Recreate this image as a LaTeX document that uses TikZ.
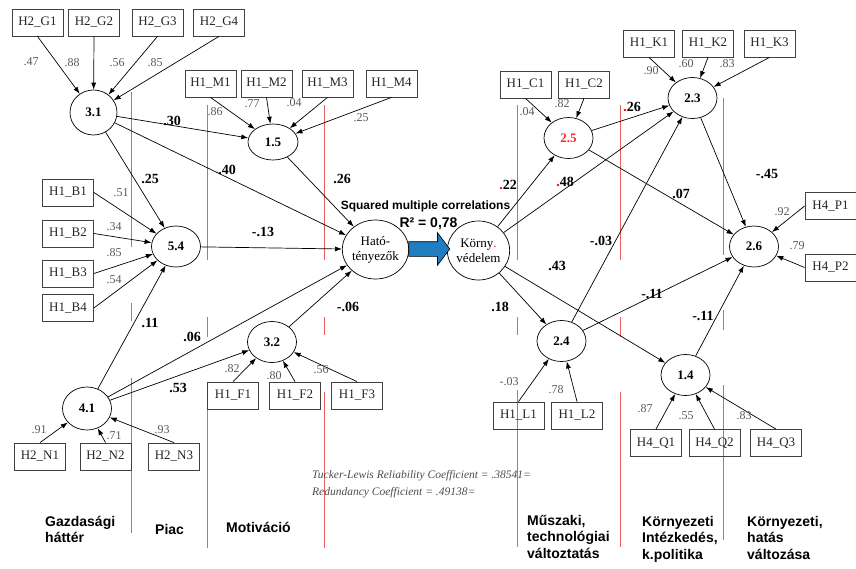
\documentclass[tikz,border=0pt]{standalone}
\usepackage{fontspec}
\setmainfont{Liberation Serif}
\setsansfont{Liberation Sans}
\usetikzlibrary{arrows.meta,shapes.geometric,shapes.arrows}
\definecolor{arrowblue}{RGB}{31,125,192}
\definecolor{lineRed}{RGB}{232,95,95}

\begin{document}
\begin{tikzpicture}[x=1pt,y=-1pt,
  factor/.style={ellipse, draw, line width=0.7pt, inner sep=0pt, minimum width=49pt, minimum height=41pt, font=\fontsize{13}{13}\selectfont\bfseries},
  bigfactor/.style={factor, minimum width=61pt, minimum height=59pt, align=center, font=\fontsize{13}{15}\selectfont},
  item/.style={rectangle, draw=black!75, line width=0.8pt, minimum width=51pt, minimum height=27pt, inner sep=0pt, text=black!85, font=\fontsize{13}{13}\selectfont},
  load/.style={text=black!65, inner sep=0pt, font=\fontsize{12}{12}\selectfont},
  coef/.style={inner sep=0pt, font=\fontsize{14}{14}\selectfont\bfseries},
  arr/.style={-{Latex[length=7pt,width=5pt]}, line width=0.7pt},
  divider/.style={lineRed, line width=0.6pt},
  group/.style={anchor=north west, align=left, inner sep=0pt, font=\fontsize{14}{16.5}\selectfont\sffamily\bfseries}
]
\useasboundingbox (0,0) rectangle (856,568);

% dividers
\foreach \x/\ta/\tb/\ma/\mb/\ba/\bb in {131/92/247/303/321/378/533, 207/105/260/317/337/397/548, 324/105/260/317/335/392/548, 517/105/260/317/335/390/547, 620/105/260/317/337/392/547, 723/98/255/310/330/385/540}
  \draw[divider] (\x,\ta) -- (\x,\tb) (\x,\ma) -- (\x,\mb) (\x,\ba) -- (\x,\bb);

% Nodes
\node[factor, minimum width=47pt, minimum height=45pt] (f31) at (93.5,112.5) {3.1};
\node[factor, minimum width=50pt, minimum height=36pt] (f15) at (273,142) {1.5};
\node[factor] (f54) at (176,246.5) {5.4};
\node[factor] (f32) at (272,342) {3.2};
\node[factor, minimum height=43pt] (f41) at (87,408.5) {4.1};
\node[bigfactor] (hato) at (375.5,249.5) {Ható-\\tényezők};
\node[bigfactor, minimum width=59pt] (korny) at (478.5,250.5) {Körny\textcolor{red}{.}\\védelem};
\node[factor, text=red!85] (f25) at (568.5,138) {2.5};
\node[factor] (f23) at (692.5,98) {2.3};
\node[factor] (f26) at (754,246.5) {2.6};
\node[factor] (f24) at (561.5,341) {2.4};
\node[factor] (f14) at (685.5,375) {1.4};

% indicators
\foreach \n/\h/\x/\y in {G1/2/37.5/22.5, G2/2/94/22.5, G3/2/157.5/22.5, G4/2/219/22.5,
    M1/1/210.5/83.5, M2/1/266.5/83.5, M3/1/327.5/83.5, M4/1/391.5/83.5,
    B1/1/68/192.5, B2/1/68/233.5, B3/1/68/273.5, B4/1/68/308,
    N1/2/40/456.5, N2/2/105.5/456.5, N3/2/174/456.5,
    F1/1/233/395.5, F2/1/295/395.5, F3/1/357/395.5,
    C1/1/525.5/84.5, C2/1/584/84.5,
    K1/1/649/43.5, K2/1/708/43.5, K3/1/769.5/43.5,
    P1/4/830.5/206, P2/4/830.5/267.5,
    L1/1/518.5/415.5, L2/1/577/415.5,
    Q1/4/656/443, Q2/4/714.5/443, Q3/4/776/443}
  \node[item] (\n) at (\x,\y) {H\h\_\n};

% loadings
\foreach \b/\a/\f/\v/\lx/\ly in {G1/south/f31/.47/31/62, G2/south/f31/.88/72/63, G3/south/f31/.56/117/63, G4/south/f31/.85/155/63,
    M1/south/f15/.86/215/112, M2/south/f15/.77/252/104, M3/south/f15/.04/294/103, M4/south/f15/.25/361/118,
    B1/east/f54/.51/121/193, B2/east/f54/.34/114/227, B3/east/f54/.85/114/253, B4/east/f54/.54/114/280,
    N1/north/f41/.91/39/430, N2/north/f41/.71/114/436, N3/north/f41/.93/162/430,
    F1/north/f32/.82/232/369, F2/north/f32/.80/274/376, F3/north/f32/.56/321/370,
    C1/south/f25/.04/527/112, C2/south/f25/.82/562/104,
    K1/south/f23/.90/651/71, K2/south/f23/.60/686/64, K3/south/f23/.83/727/64,
    P1/west/f26/.92/782/212, P2/west/f26/.79/797/246,
    L1/north/f24/-.03/509/382, L2/north/f24/.78/556/390,
    Q1/north/f14/.87/645/409, Q2/north/f14/.55/686/416, Q3/north/f14/.83/744/416}
{
  \draw[arr] (\b.\a) -- (\f);
  \node[load] (l\b) at (\lx,\ly) {\v};
}

% paths
\foreach \p/\q/\v/\lx/\ly in {f31/f15/.30/172/121, f31/hato/.40/227/170, f31/f54/.25/150/179,
    f15/hato/.26/342/179, f54/hato/-.13/263/232, f41/f54/.11/150/323,
    f41/hato/.06/192/337, f41/f32/.53/178/388, f32/hato/-.06/348/307,
    korny/f25/{\textcolor{red}{.}22}/508/185, korny/f23/{\textcolor{red}{.}48}/565/182,
    korny/f24/.18/500/307, korny/f14/.43/557/266,
    f25/f23/{\textcolor{red}{.}26}/632/107, f25/f26/.07/681/194,
    f24/f23/-.03/601/241, f24/f26/-.11/652/294, f14/f26/-.11/703/316, f23/f26/-.45/767/174}
{
  \draw[arr] (\p) -- (\q);
  \node[coef] (c\p\q) at (\lx,\ly) {\v};
}

% big arrow
\node[single arrow, draw, fill=arrowblue, line width=0.6pt, inner xsep=0pt, inner ysep=7pt, minimum height=41pt, single arrow head extend=9pt, single arrow tip angle=106] (bigarrow) at (426.5,249) {};

% texts
\node[font=\fontsize{12}{12}\selectfont\sffamily\bfseries] (smc) at (425.5,206) {Squared multiple correlations};
\node[font=\fontsize{14}{14}\selectfont\sffamily\bfseries] (rsq) at (428.5,224) {R² = 0,78};
\node[anchor=west, align=left, inner sep=0pt, text=black!70, font=\fontsize{11.5}{17}\selectfont\itshape] (tli) at (312,484) {Tucker-Lewis Reliability Coefficient = .38541=\\Redundancy Coefficient = .49138=};

% groups
\node[group] (gazd) at (45,516) {Gazdasági\\háttér};
\node[group] (piac) at (155,524) {Piac};
\node[group] (motiv) at (226,522) {Motiváció};
\node[group] (musz) at (527,515) {Műszaki,\\technológiai\\változtatás};
\node[group] (kint) at (642,516) {Környezeti\\Intézkedés,\\k.politika};
\node[group] (khat) at (747,516) {Környezeti,\\hatás\\változása};
\end{tikzpicture}
\end{document}
